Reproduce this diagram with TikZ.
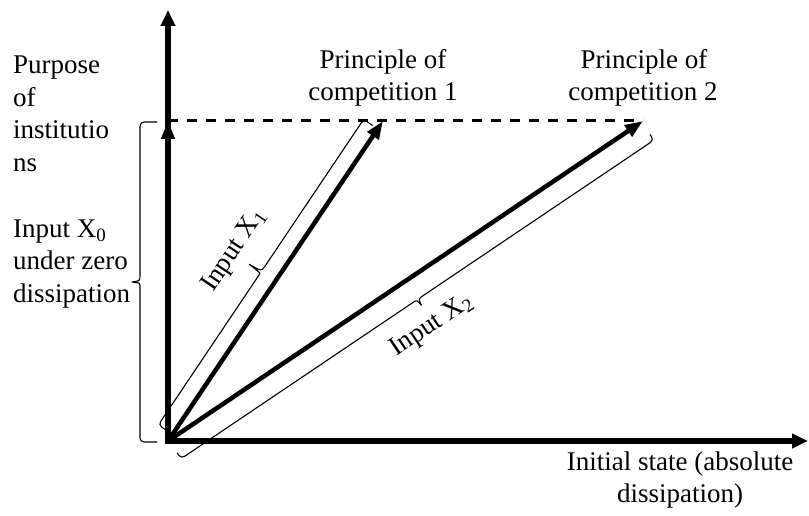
\documentclass[tikz,border=0pt]{standalone}
\usepackage{fontspec}
\setmainfont{Liberation Serif}
\usetikzlibrary{arrows.meta}
\tikzset{
  axisline/.style={line width=5.2pt, -{Triangle[length=16pt,width=14pt]}},
  vec/.style={line width=4.5pt, -{Triangle[length=18pt,width=13pt]}},
  levelline/.style={line width=3pt, dash pattern=on 10pt off 9pt},
  bracestyle/.style={line width=1.1pt, line join=round},
  lbl/.style={font=\fontsize{27}{32}\selectfont, inner sep=0pt},
}
% #1 origin, #2 angle, #3 start, #4 end, #5 end offset, #6 spine offset, #7 tip offset
\newcommand\wordbrace[7]{%
  \begin{scope}[shift={(#1)},rotate=#2]
    \pgfmathsetmacro\wbA{(#3+#4)/2-7}%
    \pgfmathsetmacro\wbM{(#3+#4)/2}%
    \pgfmathsetmacro\wbB{(#3+#4)/2+7}%
    \draw[bracestyle,rounded corners=4pt] (#3,#5) -- (#3,#6) -- (\wbA,#6)
      [sharp corners] .. controls (\wbM-1,#6) .. (\wbM,#7)
      .. controls (\wbM+1,#6) .. (\wbB,#6)
      [rounded corners=4pt] -- (#4,#6) -- (#4,#5);
  \end{scope}}
\begin{document}
\begin{tikzpicture}[x=1pt,y=1pt]
\useasboundingbox (0,0) rectangle (809,516);
\coordinate (O) at (168,75);
\coordinate (Ob) at (168,72.4);
\coordinate (Ol) at (165.4,75);
\coordinate (Ytop) at (168,506);
\coordinate (Xend) at (808,75);
\coordinate (L) at (168,395);
\coordinate (T1) at (383,395);
\coordinate (T2) at (643,395);

% level line
\draw[levelline] (L) -- (T2);
% axes
\draw[axisline] (Ob) -- (Ytop);
\draw[axisline] (Ol) -- (Xend);
% vectors
\draw[vec] (O) -- (L);
\draw[vec] (O) -- (T1);
\draw[vec] (O) -- (T2);

% braces
\wordbrace{O}{90}{-1}{319}{11}{28}{36}
\wordbrace{O}{56.1}{8}{376}{6}{17}{31}
\wordbrace{O}{33.97}{1}{571}{-15}{-22}{-29}

% rotated labels
\begin{scope}[shift={(O)},rotate=56.1]
  \node[lbl,transform shape] (in1) at (195,51) {Input X\textsubscript{1}};
\end{scope}
\begin{scope}[shift={(O)},rotate=33.97]
  \node[lbl,transform shape] (in2) at (283,-52) {Input X\textsubscript{2}};
\end{scope}

% left texts
\node[lbl,anchor=base west] (pa) at (13,442) {Purpose};
\node[lbl,anchor=base west] (pb) at (13,409.5) {of};
\node[lbl,anchor=base west] (pc) at (13,377) {institutio};
\node[lbl,anchor=base west] (pd) at (13,344.5) {ns};
\node[lbl,anchor=base west] (xa) at (13,278.5) {Input X\textsubscript{0}};
\node[lbl,anchor=base west] (xb) at (13,246) {under zero};
\node[lbl,anchor=base west] (xc) at (13,213.5) {dissipation};
% top texts
\node[lbl,anchor=base] (ca) at (383,447) {Principle of};
\node[lbl,anchor=base] (cb) at (383,415) {competition 1};
\node[lbl,anchor=base] (da) at (644,447) {Principle of};
\node[lbl,anchor=base] (db) at (643,415) {competition 2};
% bottom texts
\node[lbl,anchor=base] (ia) at (680,45) {Initial state (absolute};
\node[lbl,anchor=base] (ib) at (680,13) {dissipation)};
\end{tikzpicture}
\end{document}
